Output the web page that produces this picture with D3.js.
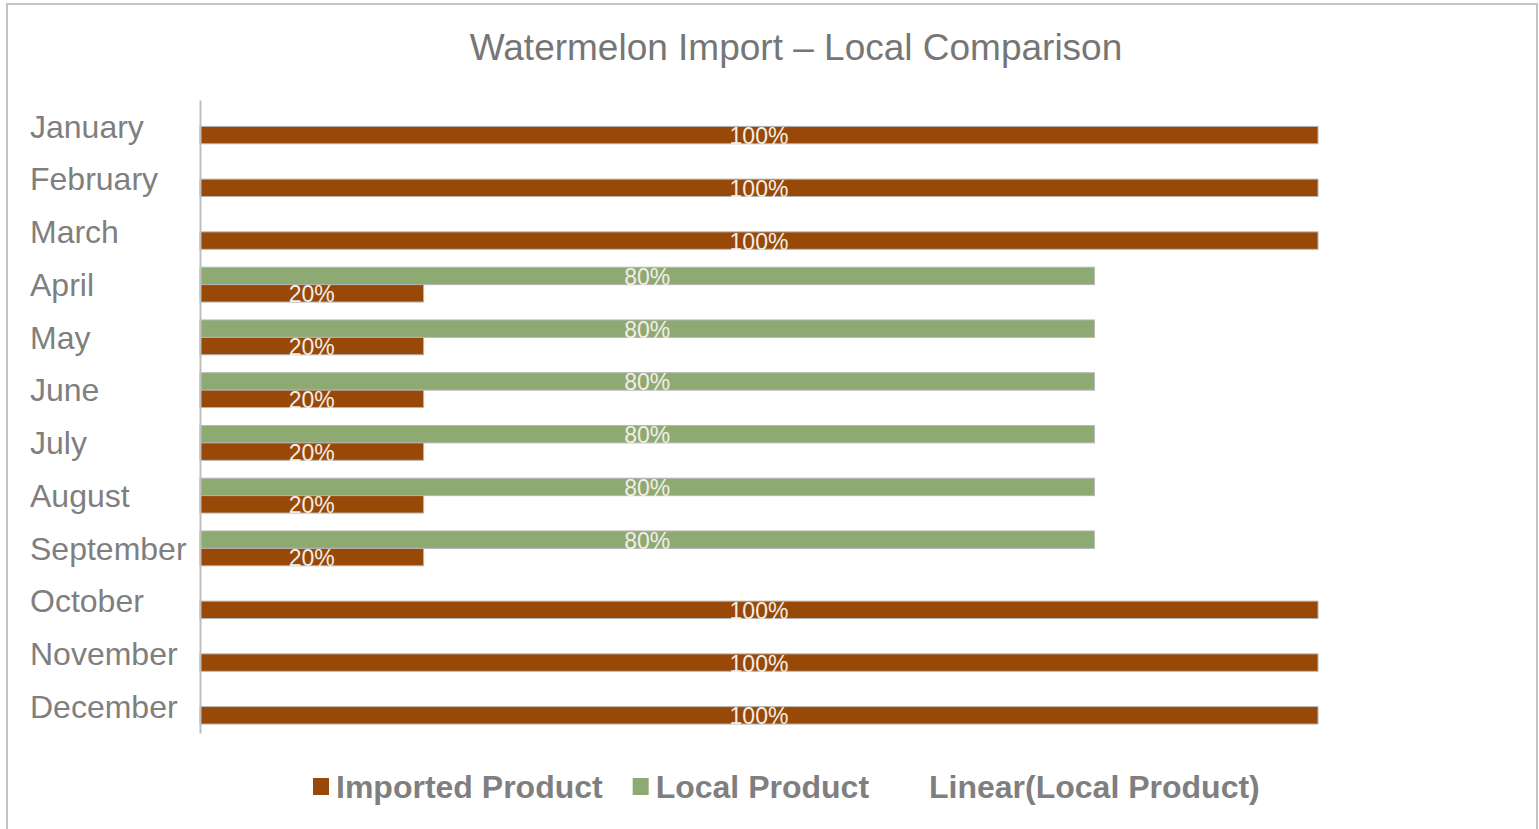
<!DOCTYPE html>
<html>
<head>
<meta charset="utf-8">
<script src="https://cdn.jsdelivr.net/npm/d3@7"></script>
<style>
  body { margin: 0; background: #fff; }
  svg { display: block; font-family: "Liberation Sans", Arial, sans-serif; }
</style>
</head>
<body>
<svg id="chart" width="1539" height="829"></svg>
<script>
// data
var months = ["January", "February", "March", "April", "May", "June",
              "July", "August", "September", "October", "November", "December"];
var imported = [100, 100, 100, 20, 20, 20, 20, 20, 20, 100, 100, 100];
var local = [0, 0, 0, 80, 80, 80, 80, 80, 80, 0, 0, 0];
var seriesNames = ["Local Product", "Imported Product"];
var legendNames = ["Imported Product", "Local Product", "Linear(Local Product)"];

var colors = {"Imported Product": "#984807", "Local Product": "#8eaa73"};

drawChart();

function drawChart() {
  var svg = d3.select("#chart");
  var W = +svg.attr("width"), H = +svg.attr("height");

  // outer frame
  svg.append("rect")
      .attr("x", 7).attr("y", 4)
      .attr("width", W - 9).attr("height", H + 10)
      .attr("fill", "#fff")
      .attr("stroke", "#c4c4c4")
      .attr("stroke-width", 2);

  svg.append("text")
      .attr("x", 796).attr("y", 60)
      .attr("text-anchor", "middle")
      .attr("font-size", 37)
      .attr("fill", "#767676")
      .text("Watermelon Import \u2013 Local Comparison");

  var margin = {top: 100, left: 200};
  var x = d3.scaleLinear().domain([0, 100]).range([margin.left, 1318]);
  var y = d3.scaleBand().domain(months).range([margin.top, 733])
      .paddingInner(0.34).paddingOuter(0.17);
  var ySub = d3.scaleBand().domain(seriesNames).range([0, y.bandwidth()]);

  var rows = months.map(function(m, i) {
    return {month: m, values: [
      {name: "Local Product", v: local[i]},
      {name: "Imported Product", v: imported[i]}
    ]};
  });

  // month labels
  svg.append("g").selectAll("text")
      .data(months)
    .enter().append("text")
      .attr("x", 30)
      .attr("y", function(d) { return y(d) + y.bandwidth() / 2; })
      .attr("dy", "0.35em")
      .attr("font-size", 32)
      .attr("fill", "#7f7f7f")
      .text(function(d) { return d; });

  var groups = svg.append("g").selectAll("g")
      .data(rows)
    .enter().append("g")
      .attr("transform", function(d) { return "translate(0," + y(d.month) + ")"; });

  var cells = groups.selectAll("g")
      .data(function(d) { return d.values.filter(function(v) { return v.v > 0; }); })
    .enter().append("g");

  cells.append("rect")
      .attr("x", x(0))
      .attr("y", function(d) { return ySub(d.name); })
      .attr("width", function(d) { return x(d.v) - x(0); })
      .attr("height", ySub.bandwidth())
      .attr("fill", function(d) { return colors[d.name]; })
      .attr("stroke", "#b5b5b5")
      .attr("stroke-width", 1);

  cells.append("text")
      .attr("x", function(d) { return (x(0) + x(d.v)) / 2; })
      .attr("y", function(d) { return ySub(d.name) + ySub.bandwidth() / 2 + 1; })
      .attr("dy", "0.35em")
      .attr("text-anchor", "middle")
      .attr("font-size", 23)
      .attr("fill", "#f2ede6")
      .text(function(d) { return d.v + "%"; });

  // axis line
  svg.append("g")
      .attr("transform", "translate(" + margin.left + ",0)")
      .call(d3.axisLeft(y).tickSize(0).tickFormat(""))
      .call(function(g) {
        g.select(".domain").attr("stroke", "#bfbfbf").attr("stroke-width", 2);
      });

  // legend
  var leg = svg.append("g").attr("font-size", 32).attr("font-weight", "bold");
  var lx = 313, ly = 787;
  legendNames.forEach(function(name, i) {
    if (colors[name]) {
      leg.append("rect")
          .attr("x", lx).attr("y", ly - 9)
          .attr("width", 16).attr("height", 17)
          .attr("fill", colors[name]);
      lx += 23;
    } else {
      lx += 30;
    }
    var t = leg.append("text")
        .attr("x", lx).attr("y", ly)
        .attr("dy", "0.35em")
        .attr("fill", "#7f7f7f")
        .text(name);
    lx += t.node().getComputedTextLength() + 30;
  });
}
</script>
</body>
</html>
